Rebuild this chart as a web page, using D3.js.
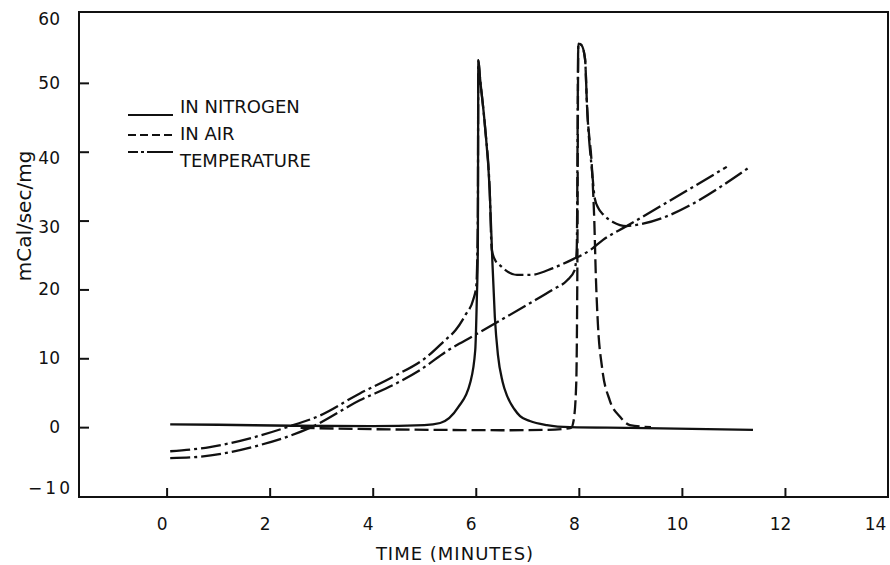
<!DOCTYPE html>
<html>
<head>
<meta charset="utf-8">
<script src="https://cdn.jsdelivr.net/npm/d3@7"></script>
<style>
  html, body { margin: 0; padding: 0; background: #fff; }
  svg { display: block; }
  text { font-family: "DejaVu Sans", sans-serif; fill: #111; }
</style>
</head>
<body>
<svg id="chart" width="890" height="565"></svg>
<script>
// ---- data (time in minutes, value in mCal/sec/mg) ----
const xTicks = [0, 2, 4, 6, 8, 10, 12, 14];
const yTicks = [-10, 0, 10, 20, 30, 40, 50, 60];
const legendLabels = ["IN NITROGEN", "IN AIR", "TEMPERATURE"];

const nitrogenFlow = [[0.07,0.4],[1.0,0.35],[2.45,0.2],[4.0,0.15],[5.0,0.3],[5.31,0.6],[5.66,2.9],[5.89,6.4],[5.99,11.2],[6.02,18.5],[6.04,26],[6.05,53.3],[6.08,50.9],[6.18,43.6],[6.27,34.4],[6.32,24.5],[6.37,16],[6.43,10.5],[6.52,6.6],[6.61,4.5],[6.75,2.6],[6.86,1.6],[7.05,0.9],[7.38,0.3],[7.83,0.0],[9.0,-0.1],[11.38,-0.4]];

const airFlow = [[2.6,-0.1],[4.0,-0.3],[5.3,-0.4],[6.5,-0.45],[7.4,-0.4],[7.85,-0.1],[7.90,1.0],[7.95,6.4],[7.97,21],[7.99,55.7],[8.05,55.5],[8.12,53.5],[8.16,46.5],[8.26,36.9],[8.30,30],[8.33,22],[8.37,15],[8.45,8.7],[8.60,3.9],[8.80,1.5],[8.99,0.3],[9.4,0.0]];

const nitrogenTemp = [[0.07,-3.5],[0.84,-2.9],[1.68,-1.5],[2.34,0],[2.98,1.7],[3.75,4.9],[4.39,7.3],[5.05,10.2],[5.40,12.6],[5.61,14.1],[5.80,16.3],[5.95,18.5],[6.01,20.5],[6.04,30],[6.05,53.3],[6.08,50.9],[6.18,43.6],[6.27,34.4],[6.31,25.8],[6.38,24.2],[6.47,23.5],[6.80,22.1],[7.05,22.1],[7.50,23.1],[7.89,24.4],[8.22,25.7],[8.47,27.2],[8.93,29.2],[10.87,37.8]];

const airTemp = [[0.07,-4.5],[0.65,-4.3],[1.81,-2.6],[2.26,-1.6],[2.78,-0.1],[3.75,3.9],[4.39,6.1],[4.92,8.3],[5.47,11.2],[5.99,13.4],[6.5,15.6],[7.05,18.0],[7.5,20.0],[7.77,21.3],[7.92,22.8],[7.96,26],[7.99,55.7],[8.05,55.5],[8.12,53.5],[8.16,46.5],[8.26,36.9],[8.31,33.2],[8.38,31.8],[8.47,30.9],[8.66,29.8],[8.93,29.2],[9.06,29.3],[11.32,37.8]];

// ---- layout ----
const svg = d3.select("#chart");
const L = 79, R = 888, T = 12, B = 497;
const x = d3.scaleLinear().domain([-1.7, 14]).range([L, R]);
const y = d3.scaleLinear().domain([-10, 60]).range([496, 14]);

const ink = "#111";
const DASHDOT = "20,4,3,4";

// frame
svg.append("rect").attr("x", L).attr("y", T).attr("width", R - L).attr("height", B - T)
  .attr("fill", "none").attr("stroke", ink).attr("stroke-width", 2);

// axes
const yAxis = svg.append("g").attr("transform", `translate(${L},0)`)
  .call(d3.axisLeft(y).tickValues(yTicks).tickSize(-10).tickSizeOuter(0).tickPadding(19));
const xAxis = svg.append("g").attr("transform", `translate(0,${B})`)
  .call(d3.axisBottom(x).tickValues(xTicks).tickSize(-9).tickSizeOuter(0).tickPadding(21));
[xAxis, yAxis].forEach(g => {
  g.select(".domain").remove();
  g.selectAll(".tick line").attr("stroke", ink).attr("stroke-width", 2);
  g.selectAll(".tick text").attr("font-size", 17).attr("font-family", "DejaVu Sans, sans-serif").attr("fill", ink);
});
xAxis.selectAll(".tick text").attr("dx", -5);
xAxis.selectAll(".tick").filter(d => d === 14).select("line").remove();
xAxis.selectAll(".tick").filter(d => d === 14).select("text").attr("dx", -13);
yAxis.selectAll(".tick").filter(d => d === -10 || d === 60).select("line").remove();
yAxis.selectAll(".tick").filter(d => d === 60).select("text").attr("dy", "0.62em");
yAxis.selectAll(".tick").filter(d => d === 40 || d === 30).select("text").attr("dy", "0.7em");
yAxis.selectAll(".tick").filter(d => d === -10).select("text")
  .attr("x", -6).attr("dy", "-0.15em").attr("letter-spacing", 3);

// axis titles
svg.append("text").attr("x", 455).attr("y", 560).attr("text-anchor", "middle")
  .attr("font-size", 18).attr("letter-spacing", 1).text("TIME (MINUTES)");
svg.append("text").attr("transform", "translate(31,216) rotate(-90)").attr("text-anchor", "middle")
  .attr("font-size", 20).text("mCal/sec/mg");

// curves
const line = d3.line().x(d => x(d[0])).y(d => y(d[1])).curve(d3.curveMonotoneX);
const series = [
  { data: nitrogenTemp, dash: DASHDOT },
  { data: airTemp, dash: DASHDOT },
  { data: nitrogenFlow, dash: null },
  { data: airFlow, dash: "14,5" }
];
series.forEach(s => {
  svg.append("path").datum(s.data).attr("d", line)
    .attr("fill", "none").attr("stroke", ink).attr("stroke-width", 2.3)
    .attr("stroke-linejoin", "round")
    .attr("stroke-dasharray", s.dash);
});

// legend
const legendRows = [
  { label: legendLabels[0], ly: 115, ty: 113, dash: null },
  { label: legendLabels[1], ly: 135, ty: 140, dash: "8,4" },
  { label: legendLabels[2], ly: 152, ty: 167, dash: "10,3,3,3,40" }
];
legendRows.forEach(r => {
  svg.append("line").attr("x1", 128).attr("x2", 173).attr("y1", r.ly).attr("y2", r.ly)
    .attr("stroke", ink).attr("stroke-width", 2).attr("stroke-dasharray", r.dash);
  svg.append("text").attr("x", 180).attr("y", r.ty).attr("font-size", 18).text(r.label);
});
</script>
</body>
</html>
